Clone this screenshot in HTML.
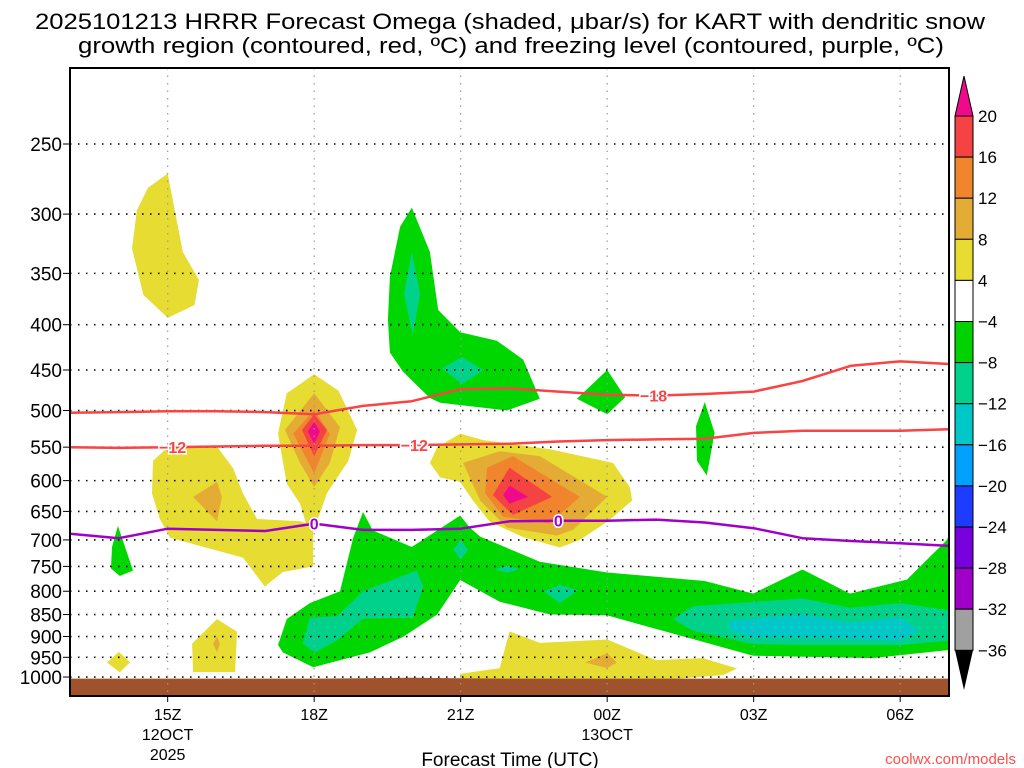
<!DOCTYPE html>
<html><head><meta charset="utf-8">
<style>
html,body{margin:0;padding:0;background:#fff;}
svg{display:block;font-family:"Liberation Sans",sans-serif;}
</style></head>
<body>
<svg id="chart" width="1024" height="768" viewBox="0 0 1024 768" xmlns="http://www.w3.org/2000/svg">
<text x="35" y="29" textLength="950" lengthAdjust="spacingAndGlyphs" font-size="22" fill="#000">2025101213 HRRR Forecast Omega (shaded, μbar/s) for KART with dendritic snow</text>
<text x="78" y="53" textLength="866" lengthAdjust="spacingAndGlyphs" font-size="22" fill="#000">growth region (contoured, red, ºC) and freezing level (contoured, purple, ºC)</text>
<g id="plot"></g>
<text x="510" y="766" text-anchor="middle" font-size="19" fill="#000">Forecast Time (UTC)</text>
<text x="1016" y="764" text-anchor="end" font-size="15" fill="#ff4d4d">coolwx.com/models</text>
<g id="cbar"></g>
</svg>
<script>
// ---- data ----
const xTickHours = [2,5,8,11,14,17];
const xTickLabels = ["15Z","18Z","21Z","00Z","03Z","06Z"];
const xDateLabels = [["12OCT","2025"],[],[],["13OCT"],[],[]];
const pLevels = [250,300,350,400,450,500,550,600,650,700,750,800,850,900,950,1000];
const contourHours = [0,1,2,3,4,5,6,7,8,9,10,11,12,13,14,15,16,17,18];
const minus18P = [503,502,501,501,502,505,494,488,473,472,476,480,481,479,476,463,445,440,443];
const minus12P = [550,551,550,549,548,548,547,547,546,545,542,540,539,538,530,527,527,527,525];
const zeroP = [689,697,680,682,684,671,682,682,680,667,666,666,664,669,679,697,702,706,711];
const groundP = [1004,1004,1004,1004,1004,1004,1003,1002,1003,1004,1004,1004,1004,1004,1004,1004,1004,1004,1004];
const cbarLabels = ["20","16","12","8","4","−4","−8","−12","−16","−20","−24","−28","−32","−36"];
const cbarColors = ["#f54242","#f0852e","#e5ac35","#e6dc32","#ffffff","#00d200","#00d28c","#00c8c8","#00a0ff","#1e3cff","#7800dc","#a000c8","#a0a0a0"];
const YEL="#e6dc32",LOR="#e5ac35",ORG="#f0852e",RED="#f54242",MAG="#ee0a8a",GRN="#00d700",TEA="#00d28c",CYN="#00c8c8";
// shaded omega regions: [hour since 13Z, hPa]
const shadeRegions = [
 {name:"yellow-upper-left",c:YEL,pts:[[2.0,270],[2.31,331],[2.64,356],[2.55,380],[2.0,393],[1.5,370],[1.27,328],[1.37,297],[1.6,280]]},
 {name:"yellow-left-mid",c:YEL,pts:[[1.70,570],[2.05,547],[3.01,549],[3.34,581],[3.54,620],[3.83,663],[4.71,667],[4.98,675],[4.98,750],[4.36,761],[3.99,790],[3.54,733],[2.05,696],[1.84,663],[1.68,620]]},
 {name:"orange-left-mid",c:LOR,pts:[[2.52,626],[3.01,602],[3.11,626],[3.01,667]]},
 {name:"yellow-18z",c:YEL,pts:[[5.0,455],[5.5,475],[5.88,526],[5.7,570],[5.26,620],[5.06,667],[4.9,690],[4.71,637],[4.44,605],[4.26,531],[4.44,478]]},
 {name:"lightorange-18z",c:LOR,pts:[[5.0,478],[5.53,522],[5.32,573],[5.0,610],[4.71,573],[4.4,526]]},
 {name:"orange-18z",c:ORG,pts:[[5.0,499],[5.32,531],[5.0,589],[4.57,531]]},
 {name:"red-18z",c:RED,pts:[[5.0,505],[5.26,526],[5.0,563],[4.75,526]]},
 {name:"magenta-18z",c:MAG,pts:[[5.0,515],[5.12,528],[5.0,545],[4.87,528]]},
 {name:"green-20z-tower",c:GRN,pts:[[7.0,295],[7.37,331],[7.54,385],[7.99,408],[8.74,417],[9.28,438],[9.62,485],[8.95,500],[7.58,490],[7.37,484],[6.82,452],[6.55,430],[6.51,395],[6.55,353],[6.76,310]]},
 {name:"teal-20z-upper",c:TEA,pts:[[7.0,331],[7.17,369],[7.02,411],[6.84,369]]},
 {name:"teal-20z-lower",c:TEA,pts:[[8.03,435],[8.46,450],[8.03,467],[7.62,448]]},
 {name:"green-00z-small",c:GRN,pts:[[11.0,450],[11.37,483],[11.0,505],[10.38,485]]},
 {name:"green-02z-sliver",c:GRN,pts:[[13.0,489],[13.2,530],[13.04,592],[12.84,570],[12.82,521]]},
 {name:"yellow-22z",c:YEL,pts:[[7.37,573],[7.52,550],[7.99,531],[8.46,540],[9.83,553],[11.12,573],[11.47,611],[11.51,632],[11.0,668],[10.44,700],[10.03,714],[9.28,695],[8.6,668],[8.25,632],[7.99,602],[7.58,595]]},
 {name:"lightorange-22z",c:LOR,pts:[[8.05,573],[8.8,556],[9.62,563],[11.0,626],[10.3,682],[9.97,692],[8.95,678],[8.4,632]]},
 {name:"orange-22z",c:ORG,pts:[[8.54,580],[9.07,563],[10.44,626],[9.83,671],[8.87,659],[8.5,620]]},
 {name:"red-22z",c:RED,pts:[[9.0,580],[9.87,626],[9.07,656],[8.66,623]]},
 {name:"magenta-22z",c:MAG,pts:[[9.0,608],[9.38,626],[9.0,637],[8.87,623]]},
 {name:"green-14z-small",c:GRN,pts:[[0.98,675],[1.29,758],[1.02,769],[0.84,754],[0.86,713]]},
 {name:"green-lower-band",c:GRN,pts:[[4.26,920],[4.44,860],[4.91,825],[5.53,800],[5.8,696],[6.0,651],[6.2,683],[7.0,713],[7.99,657],[8.19,678],[8.4,694],[9.62,741],[11.0,762],[13.0,779],[13.99,805],[15.0,756],[15.97,805],[17.14,776],[17.96,700],[18.0,690],[18.0,932],[16.44,952],[13.99,946],[11.0,852],[9.83,850],[8.8,822],[7.99,777],[7.52,850],[6.82,901],[6.14,938],[4.98,975],[4.36,938]]},
 {name:"teal-lower-left",c:TEA,pts:[[6.0,800],[7.1,758],[7.23,790],[7.02,857],[6.0,859],[5.47,909],[5.02,938],[4.77,917],[4.91,857],[5.47,854]]},
 {name:"teal-21z-diamond",c:TEA,pts:[[7.85,718],[8.0,700],[8.15,718],[8.0,737]]},
 {name:"teal-2230z-diamond",c:TEA,pts:[[9.7,800],[10.03,787],[10.4,798],[10.03,825]]},
 {name:"teal-22z-small",c:TEA,pts:[[8.7,755],[8.95,749],[9.2,755],[8.95,763]]},
 {name:"teal-lower-right",c:TEA,pts:[[12.35,860],[12.76,832],[15.0,815],[15.97,835],[17.0,825],[18.0,841],[18.0,910],[17.0,920],[15.1,920],[14.0,918],[12.76,887]]},
 {name:"cyan-lower-right",c:CYN,pts:[[13.5,864],[15.0,849],[15.97,869],[17.0,857],[17.4,885],[17.0,910],[15.1,903],[14.0,903],[13.5,885]]},
 {name:"yellow-lower-22z",c:YEL,pts:[[7.99,992],[8.8,977],[9.0,888],[9.62,915],[11.0,907],[12.0,957],[12.96,952],[13.66,978],[13.37,995],[12.4,1005],[12.4,1010],[7.99,1010]]},
 {name:"orange-lower-00z",c:LOR,pts:[[10.55,963],[11.0,940],[11.2,963],[11.0,977]]},
 {name:"yellow-16z-low",c:YEL,pts:[[3.01,860],[3.42,889],[3.38,987],[2.52,987],[2.5,917]]},
 {name:"orange-16z-low",c:LOR,pts:[[3.01,900],[3.07,917],[3.01,937],[2.93,917]]},
 {name:"yellow-14z-low",c:YEL,pts:[[1.0,937],[1.23,962],[1.02,988],[0.76,963]]}
];
// ---- axes ----
const X0=70,X1=949,Y0=68,Y1=696,HSPAN=18;
const xs=h=>X0+(h/HSPAN)*(X1-X0);
const ys=p=>144+Math.log(p/250)*384.5;
const NS="http://www.w3.org/2000/svg";
function mk(tag,attrs,parent){const e=document.createElementNS(NS,tag);for(const k in attrs)e.setAttribute(k,attrs[k]);parent.appendChild(e);return e;}
const plot=document.getElementById('plot');
const clip=mk('clipPath',{id:'pc'},mk('defs',{},plot));
mk('rect',{x:X0,y:Y0,width:X1-X0,height:Y1-Y0},clip);
const inner=mk('g',{'clip-path':'url(#pc)'},plot);
shadeRegions.forEach(r=>{
 const el=mk('polygon',{points:r.pts.map(q=>xs(q[0]).toFixed(1)+','+ys(q[1]).toFixed(1)).join(' '),fill:r.c},inner);
 
 
});
// ground
let gp='M'+xs(0)+','+Y1;
contourHours.forEach((h,i)=>{gp+=' L'+xs(h).toFixed(1)+','+ys(groundP[i]).toFixed(1);});
gp+=' L'+xs(18)+','+Y1+' Z';
const ground=mk('path',{d:gp,fill:'#a0522d'},inner);


// grid
pLevels.forEach(p=>{
 const g=mk('line',{x1:X0,x2:X1,y1:ys(p),y2:ys(p),stroke:'#000','stroke-width':1.6,'stroke-dasharray':'1.5 6.5'},inner);
 
 
});
xTickHours.forEach(h=>{
 const g=mk('line',{x1:xs(h),x2:xs(h),y1:Y0,y2:Y1,stroke:'#999','stroke-width':1.2,'stroke-dasharray':'1.5 6'},inner);
 
 
});
// contours
function line(arr,color,name){
 const d=contourHours.map((h,i)=>(i?'L':'M')+xs(h).toFixed(1)+','+ys(arr[i]).toFixed(1)).join(' ');
 const el=mk('path',{d:d,fill:'none',stroke:color,'stroke-width':2.5,'stroke-linejoin':'round'},inner);
 
 
}
line(minus18P,'#f84444','contour-minus18');
line(minus12P,'#f84444','contour-minus12');
line(zeroP,'#a000c8','contour-freezing-0');
function lab(h,arr,txt,color,name){
 const i=Math.floor(h),f=h-i,p=arr[i]+(arr[Math.min(i+1,arr.length-1)]-arr[i])*f;
 const t=mk('text',{x:xs(h),y:ys(p)+6,'text-anchor':'middle','font-size':16,'font-weight':'bold',fill:color,stroke:'#fff','stroke-width':3,'paint-order':'stroke'},inner);
 t.textContent=txt;
 
 
}
lab(11.95,minus18P,'−18','#f84444','label-minus18');
lab(2.1,minus12P,'−12','#f84444','label-minus12-a');
lab(7.05,minus12P,'−12','#f84444','label-minus12-b');
lab(5.0,zeroP,'0','#a000c8','label-zero-a');
lab(10.0,zeroP,'0','#a000c8','label-zero-b');
mk('rect',{x:X0,y:Y0,width:X1-X0,height:Y1-Y0,fill:'none',stroke:'#000','stroke-width':2},plot);
// y labels
pLevels.forEach(p=>{
 const t=mk('text',{x:62,y:ys(p)+7,'text-anchor':'end','font-size':19,fill:'#000'},plot);
 t.textContent=p;
 
 
 mk('line',{x1:63,x2:X0,y1:ys(p),y2:ys(p),stroke:'#000','stroke-width':1},plot);
});
xTickHours.forEach((h,i)=>{
 mk('line',{x1:xs(h),x2:xs(h),y1:Y1,y2:Y1+6,stroke:'#000','stroke-width':1},plot);
 const t=mk('text',{x:xs(h),y:720,'text-anchor':'middle','font-size':16,fill:'#000'},plot);
 t.textContent=xTickLabels[i];
 
 
 xDateLabels[i].forEach((s,j)=>{
  const d=mk('text',{x:xs(h),y:740+j*20,'text-anchor':'middle','font-size':16,fill:'#000'},plot);
  d.textContent=s;
  
  
 });
});
// colorbar
const cb=document.getElementById('cbar');
const CX=955,CW=18,CT=116,BH=41.1;
mk('polygon',{points:`${CX},${CT} ${CX+CW/2},76 ${CX+CW},${CT}`,fill:MAG,stroke:'#000','stroke-width':1},cb);
cbarColors.forEach((c,i)=>{
 const r=mk('rect',{x:CX,y:CT+i*BH,width:CW,height:BH,fill:c,stroke:'#000','stroke-width':1},cb);
 
 
});
const CB=CT+cbarColors.length*BH;
mk('polygon',{points:`${CX},${CB} ${CX+CW/2},690 ${CX+CW},${CB}`,fill:'#000'},cb);
cbarLabels.forEach((s,i)=>{
 const t=mk('text',{x:978,y:CT+i*BH+6,'font-size':17,fill:'#000'},cb);
 t.textContent=s;
 
 
});
</script>
</body></html>
